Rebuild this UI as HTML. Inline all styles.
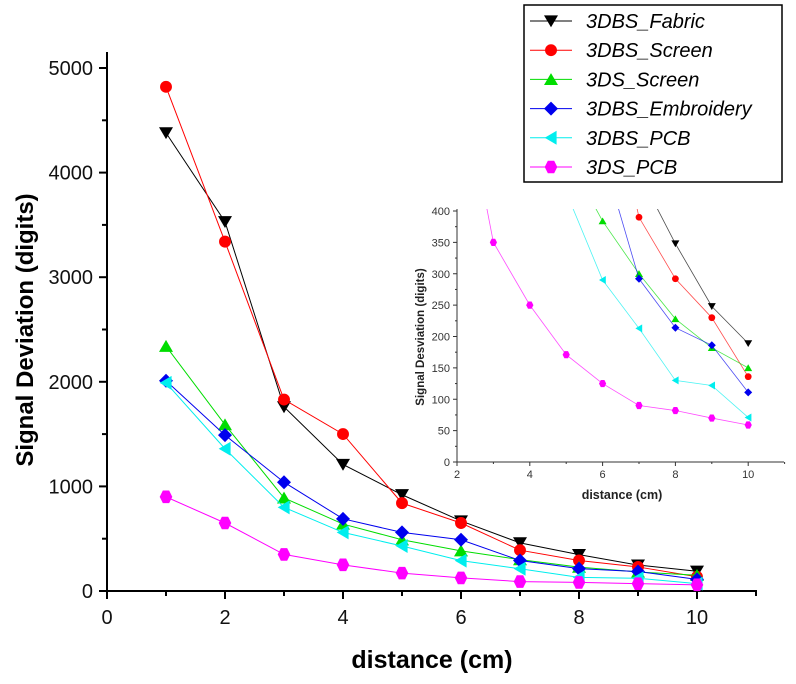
<!DOCTYPE html>
<html><head><meta charset="utf-8"><style>
html,body{margin:0;padding:0;background:#fff;}
svg{display:block;font-family:"Liberation Sans",Arial,sans-serif;}
</style></head><body>
<svg id="c" width="796" height="684" viewBox="0 0 796 684"></svg>
<script>
const distances=[1,2,3,4,5,6,7,8,9,10];
const seriesNames=["3DBS_Fabric","3DBS_Screen","3DS_Screen","3DBS_Embroidery","3DBS_PCB","3DS_PCB"];
const fabric=[4380,3530,1760,1210,920,670,460,348,248,189];
const screen=[4820,3340,1830,1500,840,650,390,292,230,136];
const dsScreen=[2340,1590,890,640,490,384,300,228,182,150];
const embroidery=[2010,1490,1040,690,560,490,292,214,186,111];
const pcb=[1990,1360,800,560,430,290,213,130,122,71];
const dsPcb=[900,650,350,250,171,125,90,82,70,59];
const mainXTicks=[0,2,4,6,8,10];
const mainYTicks=[0,1000,2000,3000,4000,5000];
const insetXTicks=[2,4,6,8,10];
const insetYTicks=[0,50,100,150,200,250,300,350,400];

const NS="http://www.w3.org/2000/svg";
const svg=document.getElementById('c');
const allSeries=[fabric,screen,dsScreen,embroidery,pcb,dsPcb];
const colors=["#000000","#ff0000","#00dd00","#0000ee","#00eeee","#ff00ff"];
const shapes=["tri-down","circle","tri-up","diamond","tri-left","hex"];
function mk(tag,attrs,parent){const e=document.createElementNS(NS,tag);for(const k in attrs)e.setAttribute(k,attrs[k]);(parent||svg).appendChild(e);return e;}
function marker(shape,x,y,r,color,parent){
  let d;
  if(shape==="circle"){return mk('circle',{cx:x,cy:y,r:r*0.85,fill:color},parent);}
  if(shape==="tri-down")d=`M${x-r},${y-r*0.8}L${x+r},${y-r*0.8}L${x},${y+r*0.9}Z`;
  if(shape==="tri-up")d=`M${x-r},${y+r*0.8}L${x+r},${y+r*0.8}L${x},${y-r*0.9}Z`;
  if(shape==="tri-left")d=`M${x+r*0.8},${y-r}L${x+r*0.8},${y+r}L${x-r*0.9},${y}Z`;
  if(shape==="diamond")d=`M${x},${y-r}L${x+r},${y}L${x},${y+r}L${x-r},${y}Z`;
  if(shape==="hex"){const a=r*0.9;d=`M${x-a/2},${y-a}L${x+a/2},${y-a}L${x+a},${y}L${x+a/2},${y+a}L${x-a/2},${y+a}L${x-a},${y}Z`;}
  return mk('path',{d:d,fill:color},parent);
}

// ---------- main chart ----------
const mx=v=>107+v*59;
const my=v=>591-v*0.1046;
const mainG=mk('g',{});


mk('line',{x1:107,y1:591,x2:757,y2:591,stroke:"#000","stroke-width":2},mainG);
mk('line',{x1:107,y1:591,x2:107,y2:52,stroke:"#000","stroke-width":2},mainG);
for(let v=0;v<=11;v++){const x=mx(v);mk('line',{x1:x,y1:591,x2:x,y2:v%2===0?599:596,stroke:"#000","stroke-width":2},mainG);}
mainXTicks.forEach(v=>{const t=mk('text',{x:mx(v),y:624,"font-size":20,"text-anchor":"middle",fill:"#111"},mainG);t.textContent=v;});
for(let v=0;v<=5000;v+=500){const y=my(v);mk('line',{x1:107,y1:y,x2:v%1000===0?99:102,y2:y,stroke:"#000","stroke-width":2},mainG);}
mainYTicks.forEach(v=>{const t=mk('text',{x:93,y:my(v)+7,"font-size":20,"text-anchor":"end",fill:"#111"},mainG);t.textContent=v;});
let t=mk('text',{x:432,y:668,"font-size":25,"font-weight":"bold","text-anchor":"middle"},mainG);t.textContent="distance (cm)";
t=mk('text',{x:0,y:0,"font-size":24,"font-weight":"bold","text-anchor":"middle",transform:"translate(33,330) rotate(-90)"},mainG);t.textContent="Signal Deviation (digits)";
allSeries.forEach((s,i)=>{
  const g=mk('g',{},mainG);
  
  
  mk('polyline',{points:s.map((v,j)=>mx(distances[j])+","+my(v)).join(" "),fill:"none",stroke:colors[i],"stroke-width":1},g);
  s.forEach((v,j)=>{const m=marker(shapes[i],mx(distances[j]),my(v),7,colors[i],g);});
});

// ---------- inset ----------
const ix=v=>457+(v-2)*36.4;
const iy=v=>462-v*0.6275;
const inG=mk('g',{});


const defs=mk('defs',{});
const cp=mk('clipPath',{id:"insetClip"},defs);
mk('rect',{x:457,y:209,width:330,height:253},cp);
mk('line',{x1:457,y1:462,x2:784,y2:462,stroke:"#333","stroke-width":1},inG);
mk('line',{x1:457,y1:462,x2:457,y2:209,stroke:"#333","stroke-width":1},inG);
for(let v=2;v<=11;v++){const x=ix(v);mk('line',{x1:x,y1:462,x2:x,y2:v%2===0?466:464,stroke:"#333","stroke-width":1},inG);}
insetXTicks.forEach(v=>{const t=mk('text',{x:ix(v),y:478,"font-size":11,"text-anchor":"middle",fill:"#333"},inG);t.textContent=v;});
for(let v=0;v<=400;v+=25){const y=iy(v);mk('line',{x1:457,y1:y,x2:v%50===0?453:455,y2:y,stroke:"#333","stroke-width":1},inG);}
insetYTicks.forEach(v=>{const t=mk('text',{x:450,y:iy(v)+4,"font-size":11,"text-anchor":"end",fill:"#333"},inG);t.textContent=v;});
t=mk('text',{x:622,y:499,"font-size":12.5,"font-weight":"bold","text-anchor":"middle",fill:"#222"},inG);t.textContent="distance (cm)";
t=mk('text',{x:0,y:0,"font-size":11.5,"font-weight":"bold","text-anchor":"middle",fill:"#222",transform:"translate(424,337) rotate(-90)"},inG);t.textContent="Signal Desviation (digits)";
const inData=mk('g',{"clip-path":"url(#insetClip)"},inG);
allSeries.forEach((s,i)=>{
  const g=mk('g',{},inData);
  
  
  mk('polyline',{points:s.map((v,j)=>ix(distances[j])+","+iy(v)).join(" "),fill:"none",stroke:colors[i],"stroke-width":0.8,opacity:0.7},g);
  s.forEach((v,j)=>{if(v<=405){const m=marker(shapes[i],ix(distances[j]),iy(v),4,colors[i],g);}});
});

// ---------- legend ----------
const lg=mk('g',{});


mk('rect',{x:524,y:5,width:258,height:177,fill:"#fff",stroke:"#000","stroke-width":1.5},lg);
seriesNames.forEach((n,i)=>{
  const y=21+i*29.2;
  const e=mk('g',{},lg);
  
  
  mk('line',{x1:530,y1:y,x2:572,y2:y,stroke:colors[i],"stroke-width":1},e);
  marker(shapes[i],551,y,7,colors[i],e);
  const tt=mk('text',{x:586,y:y+7,"font-size":20,"font-style":"italic",fill:"#000"},e);tt.textContent=n;
});
</script>
</body></html>
